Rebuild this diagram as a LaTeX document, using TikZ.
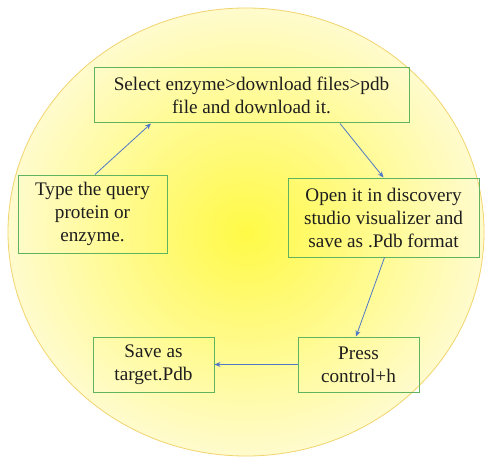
\documentclass[tikz,border=0pt]{standalone}
\usepackage{fontspec}
\setmainfont{Liberation Serif}
\usetikzlibrary{arrows.meta}
\definecolor{boxgreen}{RGB}{96,180,96}
\definecolor{arrowblue}{RGB}{80,120,200}
\definecolor{rimgold}{RGB}{242,212,110}
\definecolor{coreyellow}{RGB}{255,250,70}
\definecolor{edgeyellow}{RGB}{255,251,205}
\definecolor{txt}{RGB}{30,30,30}
\tikzset{
  stepbox/.style={draw=boxgreen, line width=1pt, rectangle, align=center,
    font=\fontsize{19.2}{23}\selectfont, text=txt, inner sep=0pt},
  flow/.style={draw=arrowblue, line width=0.8pt, -{Stealth[length=6pt,width=5pt]}}
}
\begin{document}
\begin{tikzpicture}[x=1pt,y=-1pt]
\useasboundingbox (0,0) rectangle (494,457);
\fill[white] (0,0) rectangle (494,457);
\shade[inner color=coreyellow, outer color=edgeyellow] (246,232) ellipse [x radius=238, y radius=224];
\draw[rimgold, line width=0.8pt] (246,232) ellipse [x radius=238, y radius=224];

\node[stepbox, minimum width=315pt, minimum height=55pt] (sel) at (251.5,95.5)
  {Select enzyme>download files>pdb\\file and download it.};
\node[stepbox, minimum width=149pt, minimum height=78pt] (typ) at (92.5,214)
  {Type the query\\protein or\\enzyme.};
\node[stepbox, minimum width=191pt, minimum height=79pt] (opn) at (383.5,217.5)
  {Open it in discovery\\studio visualizer and\\save as .Pdb format};
\node[stepbox, minimum width=121pt, minimum height=55pt] (prs) at (358.5,364.5)
  {Press\\control+h};
\node[stepbox, minimum width=121pt, minimum height=55pt] (sav) at (153.5,364.5)
  {Save as\\target.Pdb};

\coordinate (a1s) at ([xshift=2.5pt]typ.north);
\coordinate (a1e) at ([xshift=-100.5pt]sel.south);
\draw[flow] (a1s) -- (a1e);
\coordinate (a2s) at ([xshift=88.5pt]sel.south);
\draw[flow] (a2s) -- (opn.north);
\coordinate (a3e) at ([xshift=-2.5pt]prs.north);
\draw[flow] ([xshift=1pt]opn.south) -- (a3e);
\draw[flow] (prs.west) -- (sav.east);
\end{tikzpicture}
\end{document}
